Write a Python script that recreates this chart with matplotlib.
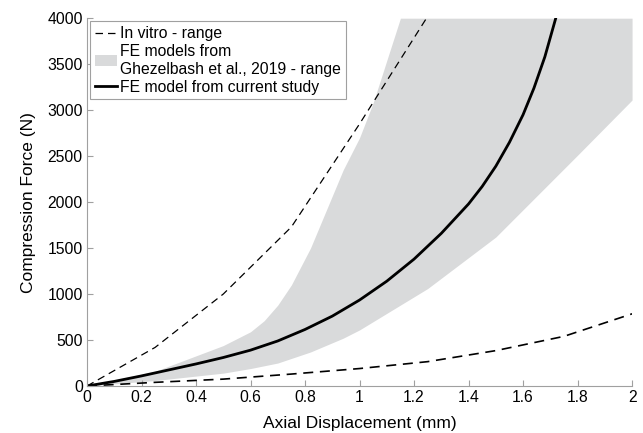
import matplotlib.pyplot as plt

plt.rcParams['font.family'] = ['Liberation Sans', 'DejaVu Sans']

# in vitro range (upper / lower dashed curves)
vitro_x = [0, 0.25, 0.5, 0.75, 1.0, 1.25, 1.5, 1.75, 2.0]
vitro_hi = [0, 420, 1000, 1730, 2850, 4020, None, None, None]
vitro_lo = [0, 40, 75, 130, 190, 265, 385, 540, 785]

# FE range from Ghezelbash et al., 2019 (grey band)
band_x = [0, 0.25, 0.5, 0.6, 0.65, 0.7, 0.75, 0.82, 0.94, 1.0, 1.05, 1.15, 1.25, 1.5, 1.8, 2.0]
band_hi = [0, 160, 440, 590, 710, 880, 1100, 1500, 2350, 2700, 3080, 4000, 4000, 4000, 4000, 4000]
band_lo = [0, 60, 140, 190, 220, 250, 300, 370, 520, 610, 700, 880, 1060, 1620, 2510, 3110]

# FE model from current study
fe_x = [0, 0.1, 0.2, 0.3, 0.4, 0.5, 0.6, 0.7, 0.8, 0.9, 1.0, 1.1, 1.2, 1.3, 1.35, 1.4, 1.45,
        1.5, 1.55, 1.6, 1.64, 1.68, 1.72]
fe_y = [0, 50, 110, 175, 240, 310, 390, 490, 615, 760, 935, 1140, 1380, 1660, 1820, 1980, 2170,
        2390, 2650, 2950, 3240, 3580, 4000]

fig = plt.figure(figsize=(6.43, 4.33), dpi=100)
ax = fig.add_axes([0.1353, 0.1085, 0.8477, 0.8495])

hi_x = [x for x, y in zip(vitro_x, vitro_hi) if y is not None]
hi_y = [y for y in vitro_hi if y is not None]
ax.plot(hi_x, hi_y, color='black', lw=0.9, dashes=(6, 4), label='In vitro - range')
ax.plot(vitro_x, vitro_lo, color='black', lw=1.2, dashes=(6, 4))
ax.fill_between(band_x, band_lo, band_hi, color='#d9dadb', lw=0,
                label='FE models from\nGhezelbash et al., 2019 - range', zorder=0)
ax.plot(fe_x, fe_y, color='black', lw=2, label='FE model from current study')

ax.set_xlim(0, 2)
ax.set_ylim(0, 4000)
ax.set_xticks([0, 0.2, 0.4, 0.6, 0.8, 1, 1.2, 1.4, 1.6, 1.8, 2])
ax.set_xticklabels(['0', '0.2', '0.4', '0.6', '0.8', '1', '1.2', '1.4', '1.6', '1.8', '2'])
ax.set_yticks(range(0, 4001, 500))
ax.tick_params(direction='in', length=4, color='#a0a0a0', labelsize=11.3, pad=3)
for s in ['top', 'right']:
    ax.spines[s].set_visible(False)
for s in ['left', 'bottom']:
    ax.spines[s].set_color('#a0a0a0')
ax.set_xlabel('Axial Displacement (mm)', fontsize=12.5, labelpad=8)
ax.set_ylabel('Compression Force (N)', fontsize=12.5, labelpad=8)

leg = ax.legend(loc='upper left', fontsize=11.3, fancybox=False, edgecolor='#a0a0a0',
                handlelength=1.4, handletextpad=0.2, borderpad=0.3, labelspacing=0.2,
                borderaxespad=0.2, framealpha=1)
leg.get_frame().set_linewidth(0.8)

fig.savefig('out.png', dpi=100)
